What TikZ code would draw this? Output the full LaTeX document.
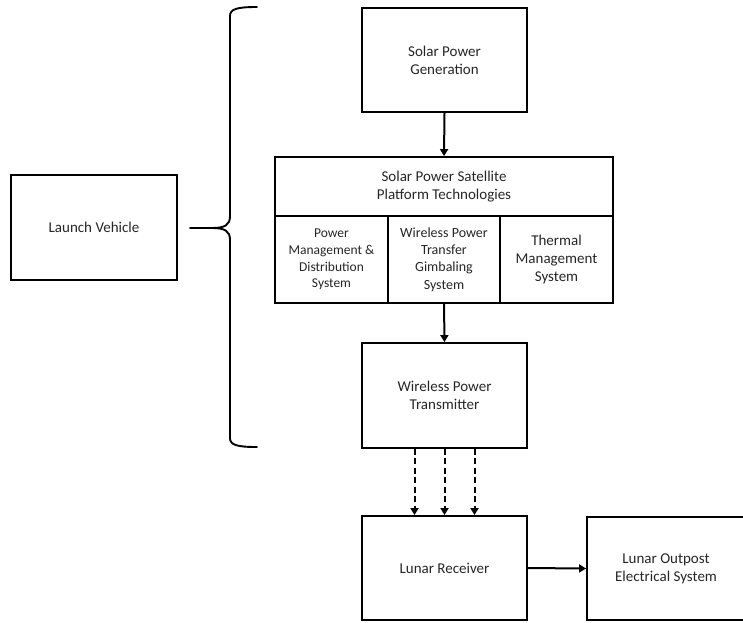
\documentclass[tikz,border=0pt]{standalone}
\usepackage{fontspec}
\setmainfont{Carlito}
\usetikzlibrary{arrows.meta}
\definecolor{txt}{HTML}{262626}
\begin{document}
\begin{tikzpicture}[x=1pt,y=-1pt,
  block/.style={draw=black, line width=1.9pt, align=center, inner sep=0pt,
    text=txt, font=\fontsize{15}{18}\selectfont},
  subblock/.style={block, minimum width=113pt, minimum height=87pt},
  flow/.style={line width=2pt, -{Triangle[width=8pt,length=7pt]}},
  beam/.style={flow, dash pattern=on 6pt off 3.5pt}
]
\useasboundingbox (0,0) rectangle (743,622);

% main chain of subsystems
\node[block, minimum width=165pt, minimum height=104pt] (gen) at (444.5,60) {Solar Power\\Generation};
\node[block, minimum width=338pt, minimum height=59pt] (plat) at (444,186.5) {Solar Power Satellite\\Platform Technologies};
\node[subblock, font=\fontsize{13.5}{16.7}\selectfont] (pmd) at (331.5,259.5) {Power\\Management \&\\Distribution\\System};
\node[subblock, minimum width=112pt, font=\fontsize{14}{17.3}\selectfont] (gimbal) at (444,259.5) {Wireless Power\\Transfer\\Gimbaling\\System};
\node[subblock] (thermal) at (556.5,259.5) {Thermal\\Management\\System};
\node[block, minimum width=165pt, minimum height=105pt] (tx) at (444.5,395.5) {Wireless Power\\Transmitter};
\node[block, minimum width=165pt, minimum height=104pt] (rx) at (444.5,568) {Lunar Receiver};
\node[block, minimum width=158pt, minimum height=103pt] (outpost) at (666,568.5) {Lunar Outpost\\Electrical System};
\node[block, minimum width=166pt, minimum height=105pt] (launch) at (94,227.5) {Launch Vehicle};

% connectors
\draw[flow] (gen.south) -- (plat.north);
\draw[flow] (gimbal.south) -- (tx.north);
\foreach \dx in {-30,0,30}
  \draw[beam] ([xshift=\dx pt]tx.south) -- ([xshift=\dx pt]rx.north);
\draw[flow] (rx.east) -- (outpost.west);

% brace grouping the space segment
\draw[line width=1.9pt, line cap=round, line join=round]
  (257,7) .. controls (237,7) and (230,9) .. (230,16)
  -- (230,216) .. controls (230,225) and (225,228) .. (212,228) -- (190,228)
  (212,228) .. controls (225,228) and (230,231) .. (230,240)
  -- (230,438) .. controls (230,445) and (237,447) .. (257,447);
\end{tikzpicture}
\end{document}
